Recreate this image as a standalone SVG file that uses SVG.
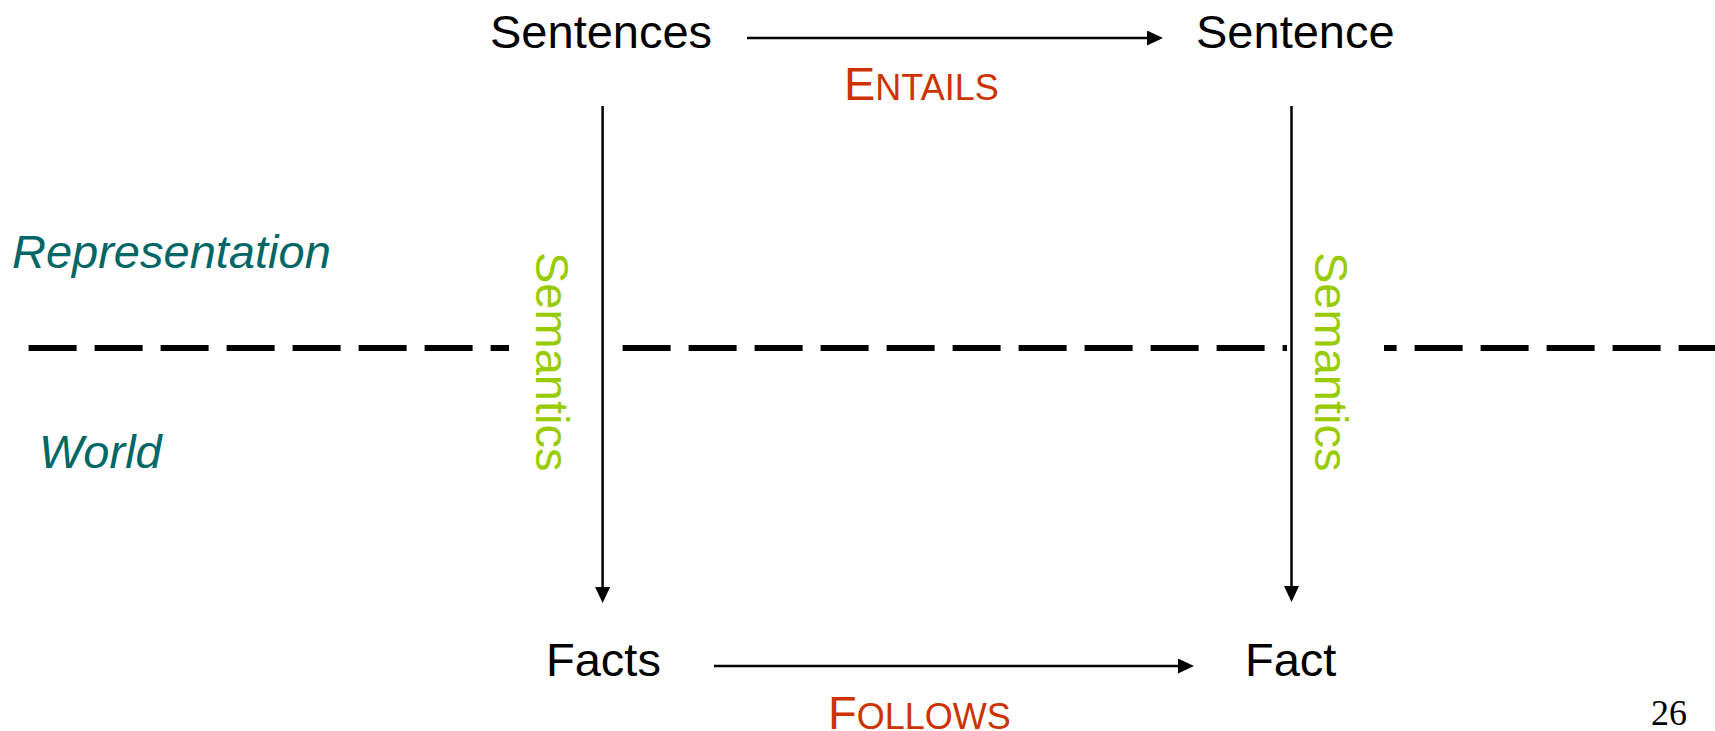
<svg xmlns="http://www.w3.org/2000/svg" width="1715" height="731" viewBox="0 0 1715 731">
<style>
.node{font-family:"Liberation Sans",Arial,sans-serif;font-size:47px;fill:#000}
.rel{font-family:"Liberation Sans",Arial,sans-serif;font-size:47px;fill:#CC3300}
.sc{font-size:36px}
.sem{font-family:"Liberation Sans",Arial,sans-serif;font-size:47px;fill:#99CC00}
.realm{font-family:"Liberation Sans",Arial,sans-serif;font-size:47px;font-style:italic;fill:#006666}
.arrow{stroke:#000;stroke-width:2.5;fill:none;marker-end:url(#head)}
.dash{stroke:#000;stroke-width:6;stroke-dasharray:48 18;fill:none}
</style>
<defs>
<marker id="head" markerUnits="userSpaceOnUse" markerWidth="16" markerHeight="15" refX="2" refY="7.5" orient="auto">
<path d="M0,0 L16,7.5 L0,15 z" fill="#000"/>
</marker>
</defs>
<rect width="1715" height="731" fill="#fff"/>
<g id="divider">
<line class="dash" x1="28.6" y1="348" x2="509" y2="348"/>
<line class="dash" x1="622.6" y1="348" x2="1287" y2="348"/>
<line class="dash" x1="1384" y1="348" x2="1715" y2="348" stroke-dashoffset="35.4"/>
</g>
<g id="realm-representation"><text class="realm" x="12" y="268">Representation</text></g>
<g id="realm-world"><text class="realm" x="39" y="468">World</text></g>
<g id="sentences"><text class="node" x="490" y="48">Sentences</text></g>
<g id="sentence"><text class="node" x="1196" y="48">Sentence</text></g>
<g id="facts"><text class="node" x="546" y="676">Facts</text></g>
<g id="fact"><text class="node" x="1245" y="676">Fact</text></g>
<g id="connectors">
<line class="arrow" x1="747" y1="38" x2="1149" y2="38"/>
<line class="arrow" x1="714" y1="666" x2="1180" y2="666"/>
<line class="arrow" x1="602.6" y1="106" x2="602.6" y2="589"/>
<line class="arrow" x1="1291.5" y1="106" x2="1291.5" y2="588"/>
</g>
<g id="labels">
<text class="rel" x="844" y="100">E<tspan class="sc">NTAILS</tspan></text>
<text class="rel" x="828" y="729">F<tspan class="sc">OLLOWS</tspan></text>
<text class="sem" transform="translate(536,252) rotate(90)">Semantics</text>
<text class="sem" transform="translate(1315,252) rotate(90)">Semantics</text>
</g>
<text x="1651" y="725" font-family="Liberation Serif,'Times New Roman',serif" font-size="36" fill="#000">26</text>
</svg>
